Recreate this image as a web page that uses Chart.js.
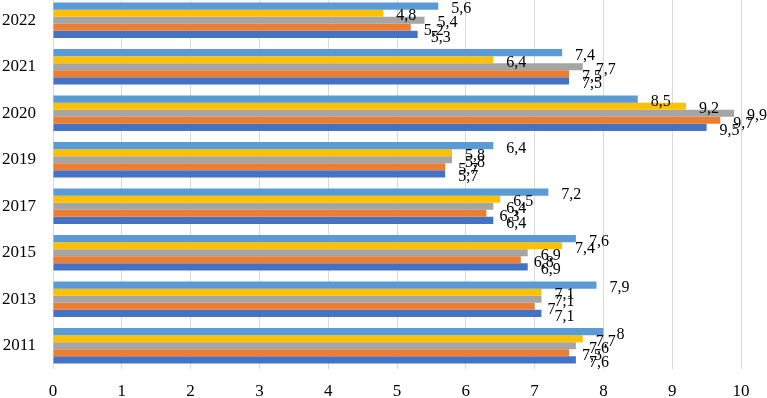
<!DOCTYPE html>
<html>
<head>
<meta charset="utf-8">
<script src="https://cdn.jsdelivr.net/npm/chart.js@4/dist/chart.umd.min.js"></script>
<style>
  html, body { margin: 0; padding: 0; background: #fff; overflow: hidden; }
  #wrap { position: relative; width: 767px; height: 398px; overflow: hidden; }
  #myChart { position: absolute; left: 0; top: -3px; }
</style>
</head>
<body>
<div id="wrap"><canvas id="myChart" width="767" height="401"></canvas></div>
<script>
// years, top to bottom as in the picture
var years = ['2022', '2021', '2020', '2019', '2017', '2015', '2013', '2011'];

// five series, in the order they stack inside each group (top bar first)
var seriesA = [5.6, 7.4, 8.5, 6.4, 7.2, 7.6, 7.9, 8.0];
var seriesB = [4.8, 6.4, 9.2, 5.8, 6.5, 7.4, 7.1, 7.7];
var seriesC = [5.4, 7.7, 9.9, 5.8, 6.4, 6.9, 7.1, 7.6];
var seriesD = [5.2, 7.5, 9.7, 5.7, 6.3, 6.8, 7.0, 7.5];
var seriesE = [5.3, 7.5, 9.5, 5.7, 6.4, 6.9, 7.1, 7.6];

var xTicks = [0, 1, 2, 3, 4, 5, 6, 7, 8, 9, 10];

var colors = ['#5B9BD5', '#FFC000', '#A5A5A5', '#ED7D31', '#4472C4'];
var serif = '"Liberation Serif", "Times New Roman", serif';

// value labels at the end of each bar, comma as decimal mark
var barLabels = {
    id: 'barLabels',
    afterDatasetsDraw: function(chart) {
        var ctx = chart.ctx;
        ctx.save();
        ctx.font = '16px ' + serif;
        ctx.fillStyle = '#000';
        ctx.textAlign = 'left';
        ctx.textBaseline = 'middle';
        chart.data.datasets.forEach(function(ds, i) {
            chart.getDatasetMeta(i).data.forEach(function(bar, j) {
                var txt = ds.data[j].toFixed(1).replace('.', ',').replace(',0', '');
                ctx.fillText(txt, bar.x + 13, bar.y + 3);
            });
        });
        ctx.restore();
    }
};

var ctx = document.getElementById('myChart').getContext('2d');
var myChart = new Chart(ctx, {
    type: 'bar',
    data: {
        labels: years,
        datasets: [
            { label: 'A', data: seriesA, backgroundColor: colors[0] },
            { label: 'B', data: seriesB, backgroundColor: colors[1] },
            { label: 'C', data: seriesC, backgroundColor: colors[2] },
            { label: 'D', data: seriesD, backgroundColor: colors[3] },
            { label: 'E', data: seriesE, backgroundColor: colors[4] }
        ]
    },
    options: {
        indexAxis: 'y',
        responsive: false,
        animation: false,
        categoryPercentage: 0.76,
        barPercentage: 1.0,
        layout: { padding: { top: 0, right: 26, bottom: 0, left: 0 } },
        plugins: {
            legend: { display: false },
            tooltip: { enabled: false }
        },
        scales: {
            x: {
                min: 0,
                max: 10,
                afterFit: function(scale) {
                    scale.height = 29;
                    scale.paddingLeft = 0;
                    scale.paddingRight = 0;
                },
                afterBuildTicks: function(scale) {
                    scale.ticks = xTicks.map(function(v) { return { value: v }; });
                },
                grid: { color: '#D9D9D9', drawTicks: false },
                border: { display: false },
                ticks: {
                    color: '#000',
                    padding: 12,
                    font: { family: serif, size: 17 }
                }
            },
            y: {
                afterFit: function(scale) {
                    scale.width = 53;
                    scale.paddingTop = 0;
                    scale.paddingBottom = 0;
                },
                grid: { display: false, drawTicks: false },
                border: { display: false },
                ticks: {
                    color: '#000',
                    padding: 17,
                    font: { family: serif, size: 17 }
                }
            }
        }
    },
    plugins: [barLabels]
});
</script>
</body>
</html>
